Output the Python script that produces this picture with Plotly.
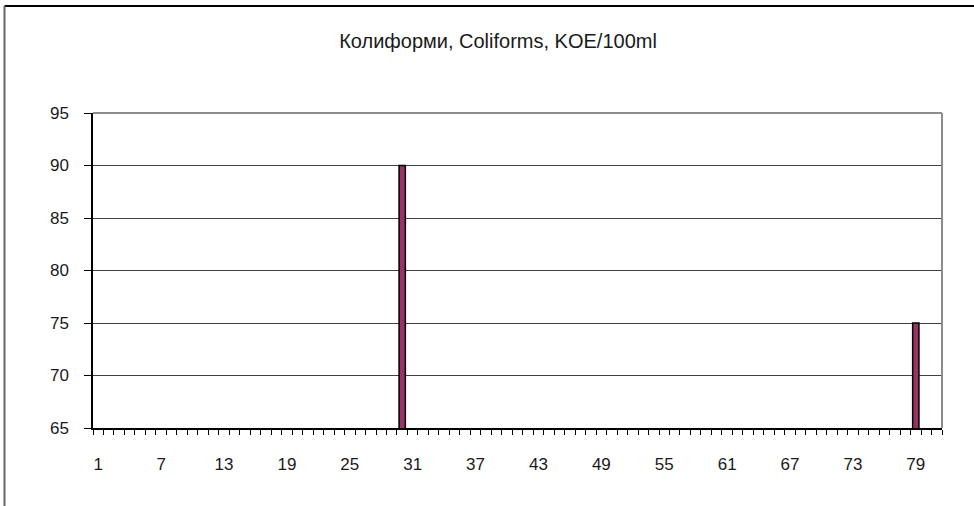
import plotly.graph_objects as go

# Data
title_text = "Колиформи, Coliforms, KOE/100ml"
n_categories = 81
bar_days = [30, 79]
bar_values = [90, 75]
y_range = [65, 95]

W, H = 974, 506
L, R, T, B = 93, 32, 113, 78
pw, ph = W - L - R, H - T - B


def px_x(p):
    return (p - L) / pw


def px_y(p):
    return (H - B - p) / ph


fig = go.Figure()
fig.add_trace(go.Bar(
    x=bar_days, y=bar_values, width=0.6,
    marker=dict(color="#993366", line=dict(color="#000000", width=1.5)),
    showlegend=False,
))

fig.update_layout(
    width=W, height=H,
    margin=dict(l=L, r=R, t=T, b=B, autoexpand=False),
    paper_bgcolor="white", plot_bgcolor="white",
    font=dict(family="Liberation Sans, Arial, sans-serif", size=17, color="#000"),
    title=dict(text=title_text, x=498 / W, xref="container", xanchor="center",
               y=1 - 41 / H, yref="container", yanchor="middle",
               font=dict(size=20, color="#1a1a1a")),
    bargap=0.4,
)

fig.update_xaxes(
    range=[0.5, n_categories + 0.5], tickmode="linear", tick0=1, dtick=6,
    ticks="", showgrid=False, zeroline=False,
    showline=True, linecolor="#000", linewidth=1.5,
    ticklabelstandoff=20, tickfont=dict(color="#1a1a1a"),
    minor=dict(ticks="outside", ticklen=5, tickcolor="#000", tickwidth=1,
               tick0=0.5, dtick=1, showgrid=False),
)
fig.update_yaxes(
    range=y_range, tickmode="linear", tick0=65, dtick=5,
    ticks="outside", ticklen=7, tickcolor="#000",
    showgrid=True, gridcolor="#404040", gridwidth=1, zeroline=False,
    showline=True, linecolor="#000", linewidth=1.5,
    ticklabelstandoff=12, tickfont=dict(color="#1a1a1a"),
)

# plot-area frame (top and right, grey)
fig.add_shape(type="line", xref="paper", yref="paper", x0=0, x1=1, y0=1, y1=1,
              line=dict(color="#8c8c8c", width=2))
fig.add_shape(type="line", xref="paper", yref="paper", x0=1, x1=1, y0=0, y1=1,
              line=dict(color="#8c8c8c", width=2))

# outer chart border (top black, left grey)
top_px = 6
fig.add_shape(type="line", xref="paper", yref="paper",
              x0=px_x(4.5), x1=px_x(W + 10), y0=px_y(top_px), y1=px_y(top_px),
              line=dict(color="#000", width=2), layer="above")
fig.add_shape(type="line", xref="paper", yref="paper",
              x0=px_x(4.5), x1=px_x(4.5), y0=px_y(top_px), y1=px_y(H + 10),
              line=dict(color="#666", width=2), layer="above")

fig.write_html("out.html", config={"displayModeBar": False},
               post_script="document.body.style.margin='0px';")
